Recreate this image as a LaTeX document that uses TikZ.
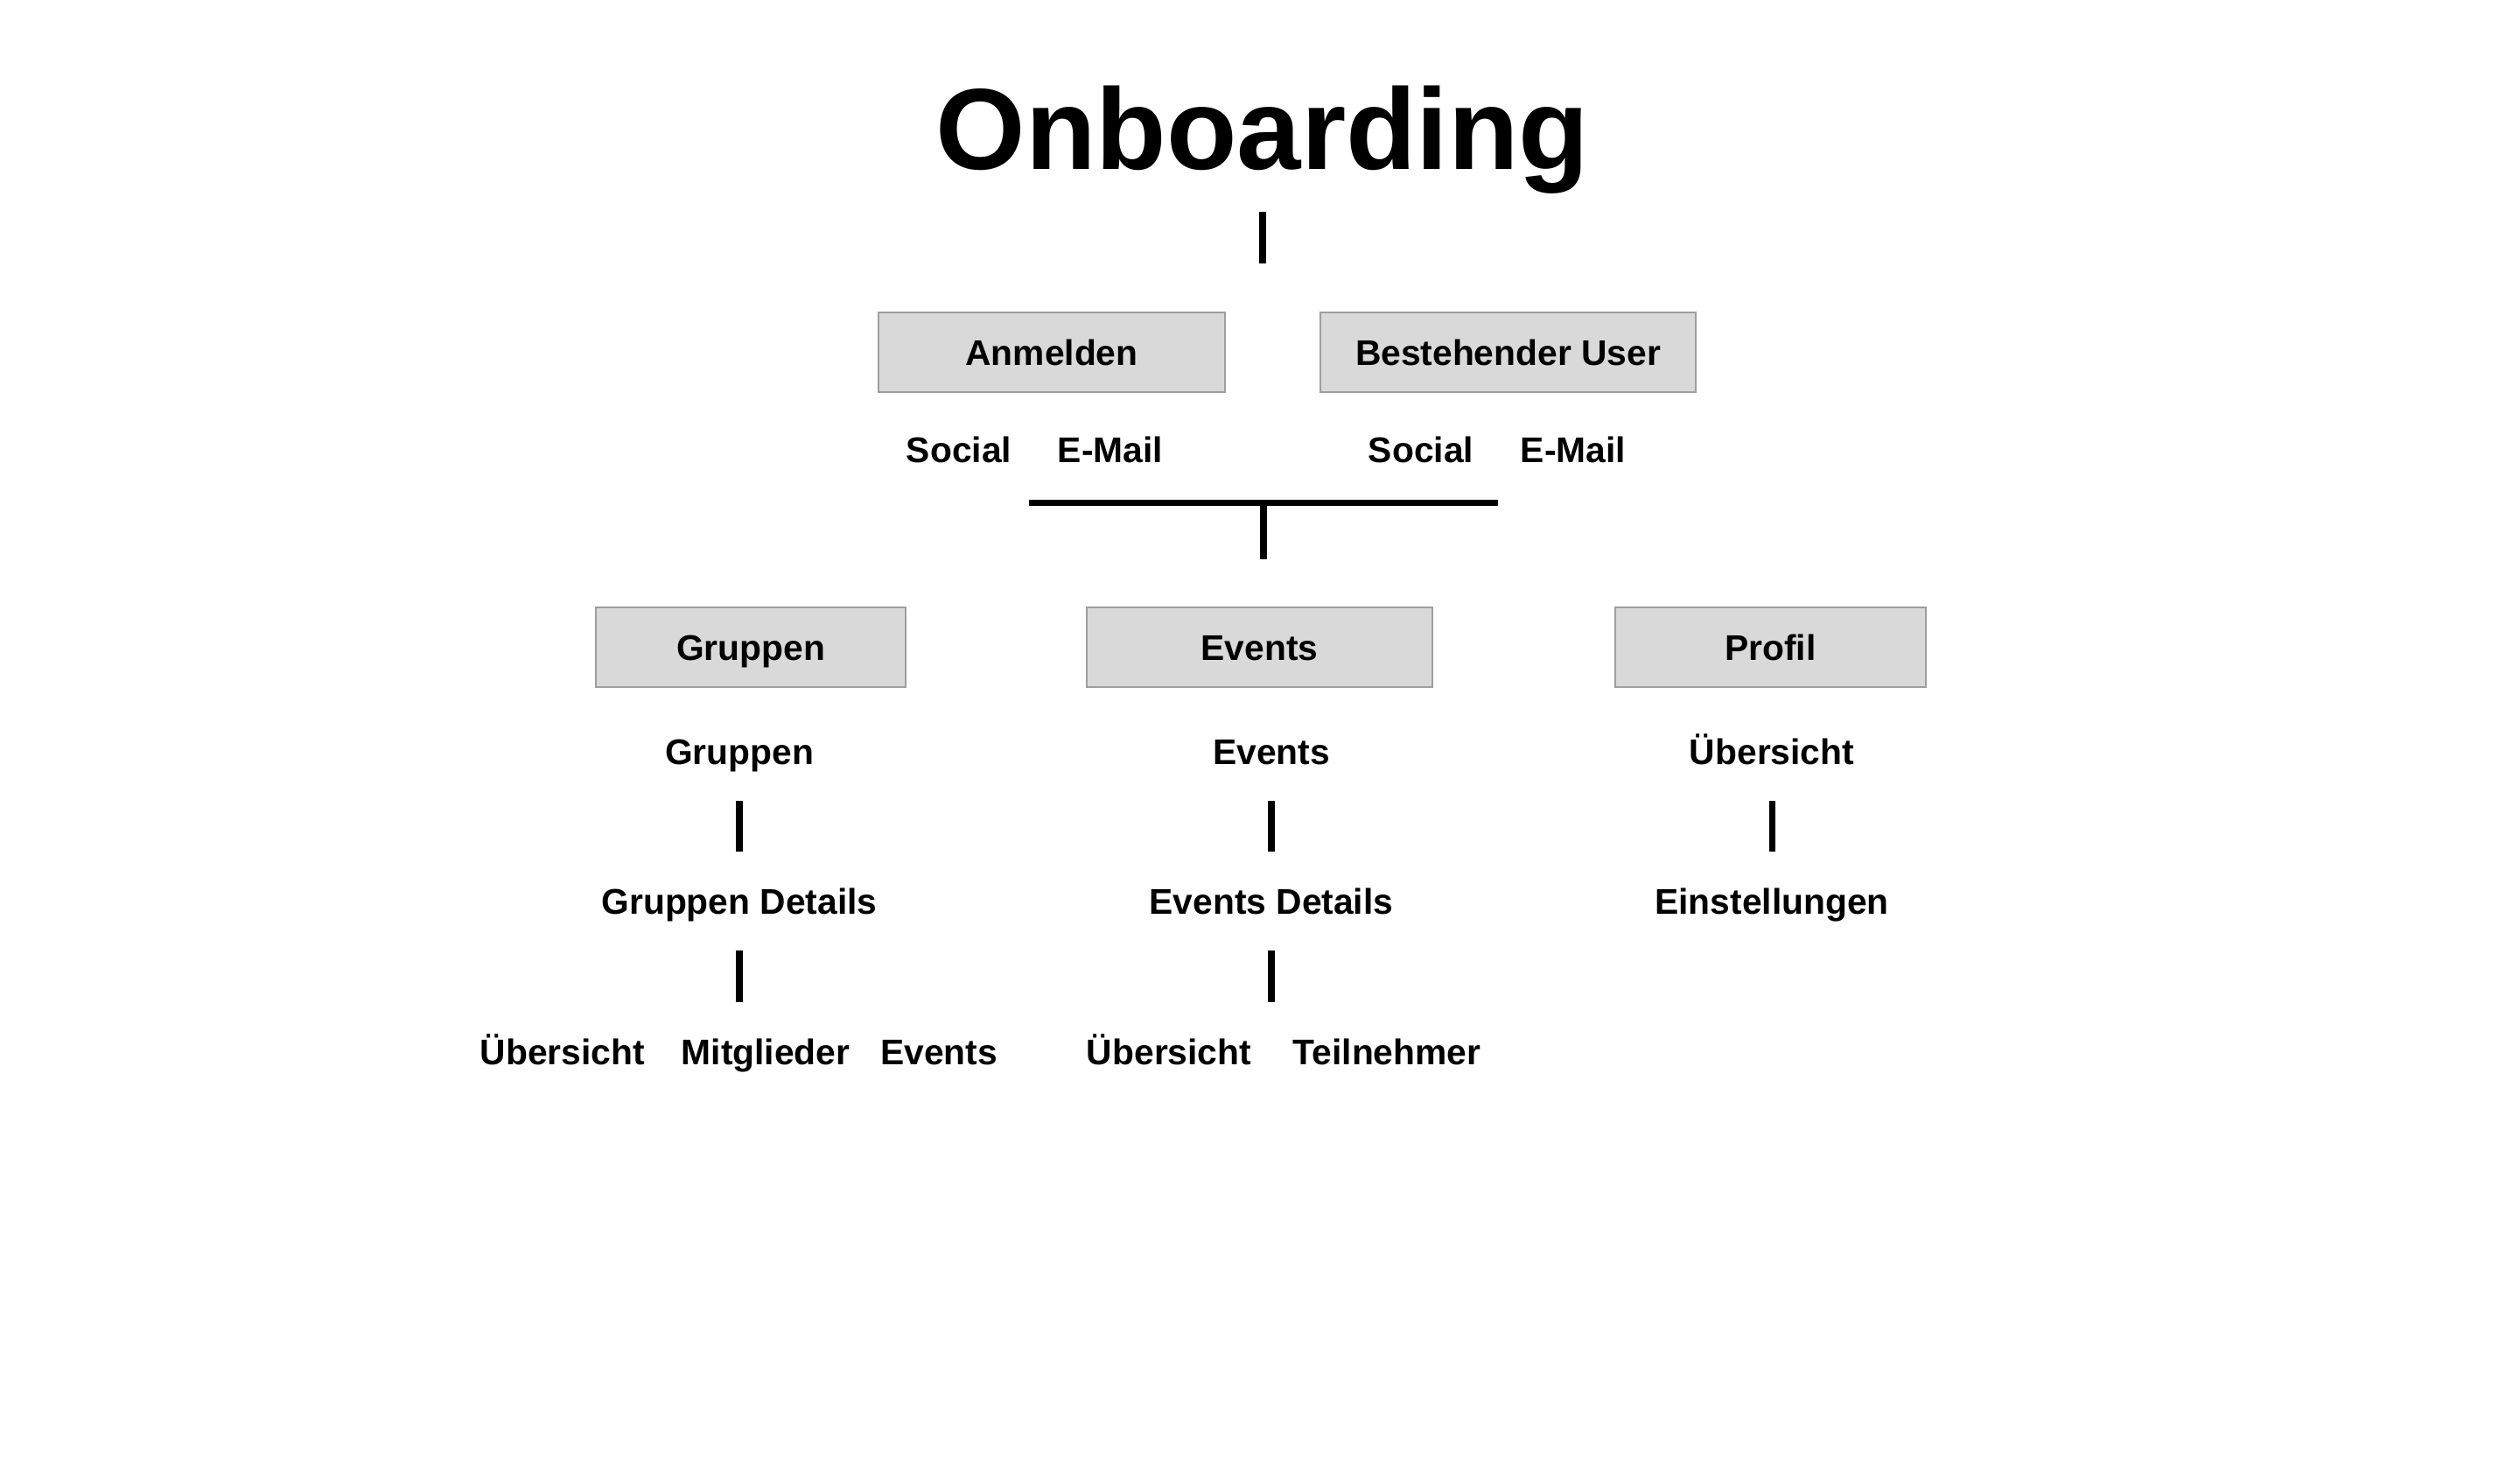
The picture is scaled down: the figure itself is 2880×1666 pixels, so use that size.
\documentclass[tikz,border=0pt]{standalone}
\usepackage{fontspec}
\usetikzlibrary{calc}
\setmainfont{Liberation Sans}
\definecolor{boxfill}{HTML}{D9D9D9}
\definecolor{boxline}{HTML}{9E9E9E}
\newcommand{\labelfont}{\bfseries\fontsize{11.6}{14}\selectfont}
\newcommand{\titlefont}{\bfseries\fontsize{37.5}{40}\selectfont}
\begin{document}
\begin{tikzpicture}[x=0.1mm, y=-0.1mm,
    screen/.style={draw=boxline, line width=0.7pt, fill=boxfill, inner sep=0pt,
        minimum height=9.1mm, text height=8.3pt, text depth=0pt, font=\labelfont},
    lbl/.style={inner sep=0pt, anchor=base, text height=8.4pt, text depth=2.5pt, font=\labelfont},
    link/.style={line width=2pt, shorten <=9.2pt, shorten >=11.5pt},
    bar/.style={line width=2pt}]
    \useasboundingbox (0,0) rectangle (2880,1666);
    % title
    \node [inner sep=0pt, anchor=base, text depth=8pt, font=\titlefont] (title) at (1443,193) {Onboarding};
    \coordinate (topend) at (1443,301);
    \draw [bar, shorten <=5.7pt] (title.south) -- (topend);
    % login
    \node [screen, minimum width=39.6mm] (anmelden) at (1202,402.5) {Anmelden};
    \node [screen, minimum width=42.9mm] (bestehend) at (1723.5,402.5) {Bestehender User};
    \node [lbl] (asocial) at (1096,528) {Social};
    \node [lbl] (amail) at (1269,528) {E-Mail};
    \node [lbl] (bsocial) at (1624,528) {Social};
    \node [lbl] (bmail) at (1798,528) {E-Mail};
    \coordinate (barl) at (1176,574);
    \coordinate (barr) at (1712,574);
    \coordinate (barmid) at ($(barl)!0.5!(barr)$);
    \coordinate (stem) at (1444,639);
    \draw [bar] (barl) -- (barr);
    \draw [bar] (barmid) -- (stem);
    % main screens
    \node [screen, minimum width=35.4mm] (gruppen) at (858,739.5) {Gruppen};
    \node [screen, minimum width=39.5mm] (events) at (1439.5,739.5) {Events};
    \node [screen, minimum width=35.5mm] (profil) at (2023.5,739.5) {Profil};
    % Gruppen
    \node [lbl] (glist) at (845,873) {Gruppen};
    \node [lbl] (gdet) at (845,1044) {Gruppen Details};
    \node [lbl] (gover) at (643,1216) {Übersicht};
    \node [lbl] (gmit) at (875,1216) {Mitglieder};
    \node [lbl] (gev) at (1073,1216) {Events};
    \draw [link] (glist.south) -- (gdet.north);
    \draw [link] (gdet.south) -- (gdet.south |- gmit.north);
    % Events
    \node [lbl] (elist) at (1453,873) {Events};
    \node [lbl] (edet) at (1453,1044) {Events Details};
    \node [lbl] (eover) at (1336,1216) {Übersicht};
    \node [lbl] (eteil) at (1585,1216) {Teilnehmer};
    \draw [link] (elist.south) -- (edet.north);
    \draw [link] (edet.south) -- (edet.south |- eteil.north);
    % Profil
    \node [lbl] (pover) at (2025,873) {Übersicht};
    \node [lbl] (pset) at (2025,1044) {Einstellungen};
    \draw [link] (pover.south) -- (pset.north);
\end{tikzpicture}
\end{document}
